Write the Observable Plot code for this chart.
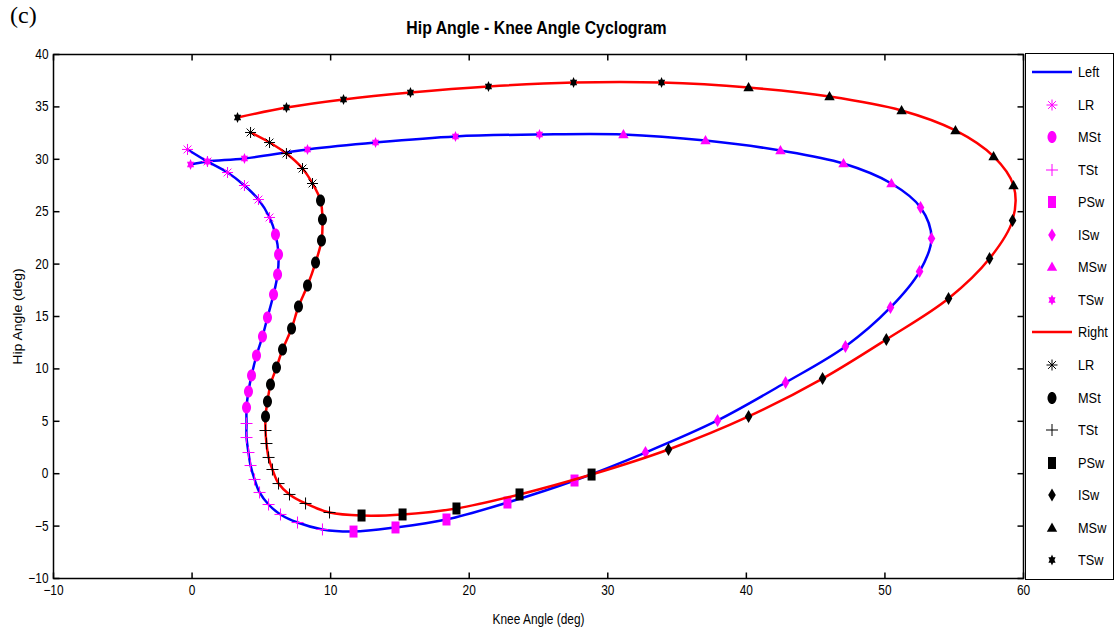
<!DOCTYPE html>
<html>
<head>
<meta charset="utf-8">
<script src="https://cdn.jsdelivr.net/npm/d3@7"></script>
<script src="https://cdn.jsdelivr.net/npm/@observablehq/plot@0.6"></script>
<style>
  body { margin: 0; background: #fff; }
  #wrap { position: relative; width: 1115px; height: 632px; overflow: hidden;
          font-family: "Liberation Sans", Arial, sans-serif; }
  #panel { position: absolute; left: 10px; top: 2px; font-family: "Liberation Serif", "Times New Roman", serif; font-size: 24px; }
  #title { position: absolute; left: 0; width: 1073px; top: 18px; text-align: center; font-weight: bold; font-size: 18px;
           transform: scaleX(0.88); transform-origin: 536px 0; }
  #legend { position: absolute; left: 1025px; top: 53px; width: 89px; height: 527px; box-sizing: border-box;
            border: 1.5px solid #000; background: #fff; }
  #legend .row { position: absolute; left: 0; height: 20px; width: 88px; }
  #legend .row svg { position: absolute; left: 6px; top: 0; }
  #legend .row span { position: absolute; left: 52px; top: 1px; font-size: 15px; transform: scaleX(0.85); transform-origin: 0 0; }
</style>
</head>
<body>
<div id="wrap">
  <div id="panel">(c)</div>
  <div id="title">Hip Angle - Knee Angle Cyclogram</div>
  <div id="chart"></div>
  <div id="legend"></div>
</div>
<script>
// Gait phases in the order they occur in one cycle
const phases = ["LR", "MSt", "TSt", "PSw", "ISw", "MSw", "TSw"];

// Left leg: knee and hip angles (deg), and number of samples in each phase
const leftKnee = [
  -0.33, 1.11, 2.56, 3.78, 4.79, 5.59,
  6.02, 6.24, 6.17, 5.88, 5.44, 5.08, 4.65, 4.29, 4.07, 3.93,
  3.93, 3.93, 4.07, 4.22, 4.51, 4.87, 5.52, 6.38, 7.61, 9.41,
  11.65, 14.68, 18.36, 22.76, 27.6,
  32.72, 37.92, 42.83, 47.15, 50.4, 52.5, 53.36, 52.57,
  50.47, 47.01, 42.46, 37.05, 31.13,
  25.07, 19.01, 13.24, 8.33, 3.78, 1.11, -0.11
];
const leftHip = [
  30.94, 29.79, 28.74, 27.5, 26.16, 24.45,
  22.82, 20.92, 19.01, 17.1, 14.9, 13.09, 11.28, 9.37, 7.84, 6.32,
  4.79, 3.45, 2.02, 0.78, -0.55, -1.79, -2.94, -3.89, -4.66, -5.32,
  -5.52, -5.13, -4.37, -2.75, -0.65,
  2.02, 5.08, 8.7, 12.14, 15.86, 19.29, 22.44, 25.4,
  27.69, 29.6, 30.84, 31.79, 32.37,
  32.37, 32.18, 31.6, 30.94, 30.08, 29.79, 29.5
];
const leftCounts = [6, 10, 10, 5, 8, 5, 7];

// Right leg: knee and hip angles (deg), and number of samples in each phase
const rightKnee = [
  4.22, 5.59, 6.81, 7.97, 8.69,
  9.27, 9.41, 9.34, 8.91, 8.33, 7.68, 7.18, 6.53, 6.09, 5.66, 5.44, 5.3,
  5.3, 5.37, 5.52, 5.8, 6.24, 7.03, 8.19, 9.92,
  12.23, 15.19, 19.08, 23.63, 28.83,
  34.38, 40.16, 45.5, 50.1, 54.59, 57.55, 59.21,
  59.28, 57.84, 55.09, 51.2, 46.0, 40.16,
  33.88, 27.53, 21.39, 15.76, 10.93, 6.81, 3.28
];
const rightHip = [
  32.56, 31.6, 30.55, 29.12, 27.69,
  26.07, 24.26, 22.25, 20.15, 17.96, 15.95, 13.85, 11.85, 10.13, 8.51, 6.89, 5.46,
  4.12, 2.88, 1.55, 0.4, -0.94, -1.98, -2.84, -3.7,
  -3.99, -3.89, -3.32, -1.98, -0.08,
  2.31, 5.46, 9.08, 12.81, 16.72, 20.53, 24.16,
  27.5, 30.27, 32.75, 34.66, 35.99, 36.85,
  37.33, 37.33, 36.95, 36.37, 35.71, 34.94, 33.99
];
const rightCounts = [5, 12, 8, 5, 7, 6, 7];

// Axis ticks
const xTicks = [-10, 0, 10, 20, 30, 40, 50, 60];
const yTicks = [-10, -5, 0, 5, 10, 15, 20, 25, 30, 35, 40];

// Build row tables (knee, hip, phase) from the arrays above
function rows(knee, hip, counts) {
  const phaseOf = counts.flatMap((n, i) => Array(n).fill(phases[i]));
  return knee.map((k, i) => ({knee: k, hip: hip[i], phase: phaseOf[i]}));
}
const left = rows(leftKnee, leftHip, leftCounts);
const right = rows(rightKnee, rightHip, rightCounts);

// Marker shapes (slightly taller than wide)
const sym = f => ({draw(ctx) { f(ctx); }});
const shapes = {
  LR: sym(c => { const a = 5.5, b = 3.9;
    c.moveTo(-a, 0); c.lineTo(a, 0); c.moveTo(0, -a); c.lineTo(0, a);
    c.moveTo(-b, -b); c.lineTo(b, b); c.moveTo(-b, b); c.lineTo(b, -b); }),
  MSt: sym(c => { const rx = 4.5, ry = 6, k = 0.5523;
    c.moveTo(rx, 0);
    c.bezierCurveTo(rx, ry * k, rx * k, ry, 0, ry);
    c.bezierCurveTo(-rx * k, ry, -rx, ry * k, -rx, 0);
    c.bezierCurveTo(-rx, -ry * k, -rx * k, -ry, 0, -ry);
    c.bezierCurveTo(rx * k, -ry, rx, -ry * k, rx, 0);
    c.closePath(); }),
  TSt: sym(c => { c.moveTo(-6, 0); c.lineTo(6, 0); c.moveTo(0, -6); c.lineTo(0, 6); }),
  PSw: sym(c => { c.rect(-4, -6, 8, 12); }),
  ISw: sym(c => { c.moveTo(0, -6.5); c.lineTo(3.8, 0); c.lineTo(0, 6.5); c.lineTo(-3.8, 0); c.closePath(); }),
  MSw: sym(c => { c.moveTo(0, -5.5); c.lineTo(5.2, 3.8); c.lineTo(-5.2, 3.8); c.closePath(); }),
  // hexagram: two triangles wound the same way so the centre stays filled
  TSw: sym(c => {
    c.moveTo(0, -5.5); c.lineTo(3.6, 2.8); c.lineTo(-3.6, 2.8); c.closePath();
    c.moveTo(0, 5.5); c.lineTo(-3.6, -2.8); c.lineTo(3.6, -2.8); c.closePath(); })
};
const stroked = new Set(["LR", "TSt"]);

// Short inward tick marks on all four sides
const tickUp = sym(c => { c.moveTo(0, 0); c.lineTo(0, -6); });
const tickDown = sym(c => { c.moveTo(0, 0); c.lineTo(0, 6); });
const tickRight = sym(c => { c.moveTo(0, 0); c.lineTo(6, 0); });
const tickLeft = sym(c => { c.moveTo(0, 0); c.lineTo(-6, 0); });

function markerMarks(data, color) {
  return phases.map(p => Plot.dot(data.filter(d => d.phase === p), {
    x: "knee", y: "hip", symbol: shapes[p],
    fill: stroked.has(p) ? "none" : color,
    stroke: stroked.has(p) ? color : "none",
    strokeWidth: 1
  }));
}

const chart = Plot.plot({
  width: 1115,
  height: 632,
  marginLeft: 53,
  marginRight: 92,
  marginTop: 54,
  marginBottom: 54,
  x: {domain: [-10, 60]},
  y: {domain: [-10, 40]},
  style: {fontFamily: "'Liberation Sans',Arial,sans-serif", fontSize: "14px", color: "#000", background: "transparent"},
  marks: [
    Plot.axisX(xTicks, {anchor: "bottom", tickSize: 0, tickPadding: 7, label: "Knee Angle (deg)", labelAnchor: "center", labelArrow: "none", labelOffset: 45}),
    Plot.axisY(yTicks, {anchor: "left", tickSize: 0, tickPadding: 5, label: "Hip Angle (deg)", labelAnchor: "center", labelArrow: "none", labelOffset: 40}),
    Plot.dot(xTicks, {x: d => d, frameAnchor: "bottom", symbol: tickUp, stroke: "#000", fill: "none"}),
    Plot.dot(xTicks, {x: d => d, frameAnchor: "top", symbol: tickDown, stroke: "#000", fill: "none"}),
    Plot.dot(yTicks, {y: d => d, frameAnchor: "left", symbol: tickRight, stroke: "#000", fill: "none"}),
    Plot.dot(yTicks, {y: d => d, frameAnchor: "right", symbol: tickLeft, stroke: "#000", fill: "none"}),
    Plot.line(left, {x: "knee", y: "hip", stroke: "#0000ff", strokeWidth: 2.5, curve: "catmull-rom"}),
    ...markerMarks(left, "#ff00ff"),
    Plot.line(right, {x: "knee", y: "hip", stroke: "#ff0000", strokeWidth: 2.5, curve: "catmull-rom"}),
    ...markerMarks(right, "#000000"),
    Plot.frame({stroke: "#000", strokeWidth: 1.5})
  ]
});

// Narrow the axis lettering (glyphs keep their height, lose some width)
d3.select(chart).selectAll("text").each(function() {
  const t = this.getAttribute("transform");
  if (!t || !t.startsWith("translate(")) return;
  this.setAttribute("transform", t + (t.includes("rotate(") ? " scale(1,0.85)" : " scale(0.85,1)"));
});
document.getElementById("chart").appendChild(chart);

// Legend: one line sample per leg followed by its phase markers
const legendItems = [
  {label: "Left", line: "#0000ff"},
  ...phases.map(p => ({label: p, phase: p, color: "#ff00ff"})),
  {label: "Right", line: "#ff0000"},
  ...phases.map(p => ({label: p, phase: p, color: "#000000"}))
];
const legend = d3.select("#legend");
legendItems.forEach((item, i) => {
  const row = legend.append("div").attr("class", "row").style("top", (8 + i * 32.55) + "px");
  const svg = row.append("svg").attr("width", 42).attr("height", 20);
  if (item.line) {
    svg.append("line").attr("x1", 0).attr("x2", 40).attr("y1", 10).attr("y2", 10)
      .attr("stroke", item.line).attr("stroke-width", 2.5);
  } else {
    const p = d3.path();
    shapes[item.phase].draw(p);
    const s = stroked.has(item.phase);
    svg.append("path").attr("d", p.toString()).attr("transform", "translate(20,10)")
      .attr("fill", s ? "none" : item.color).attr("stroke", s ? item.color : "none");
  }
  row.append("span").text(item.label);
});
</script>
</body>
</html>
